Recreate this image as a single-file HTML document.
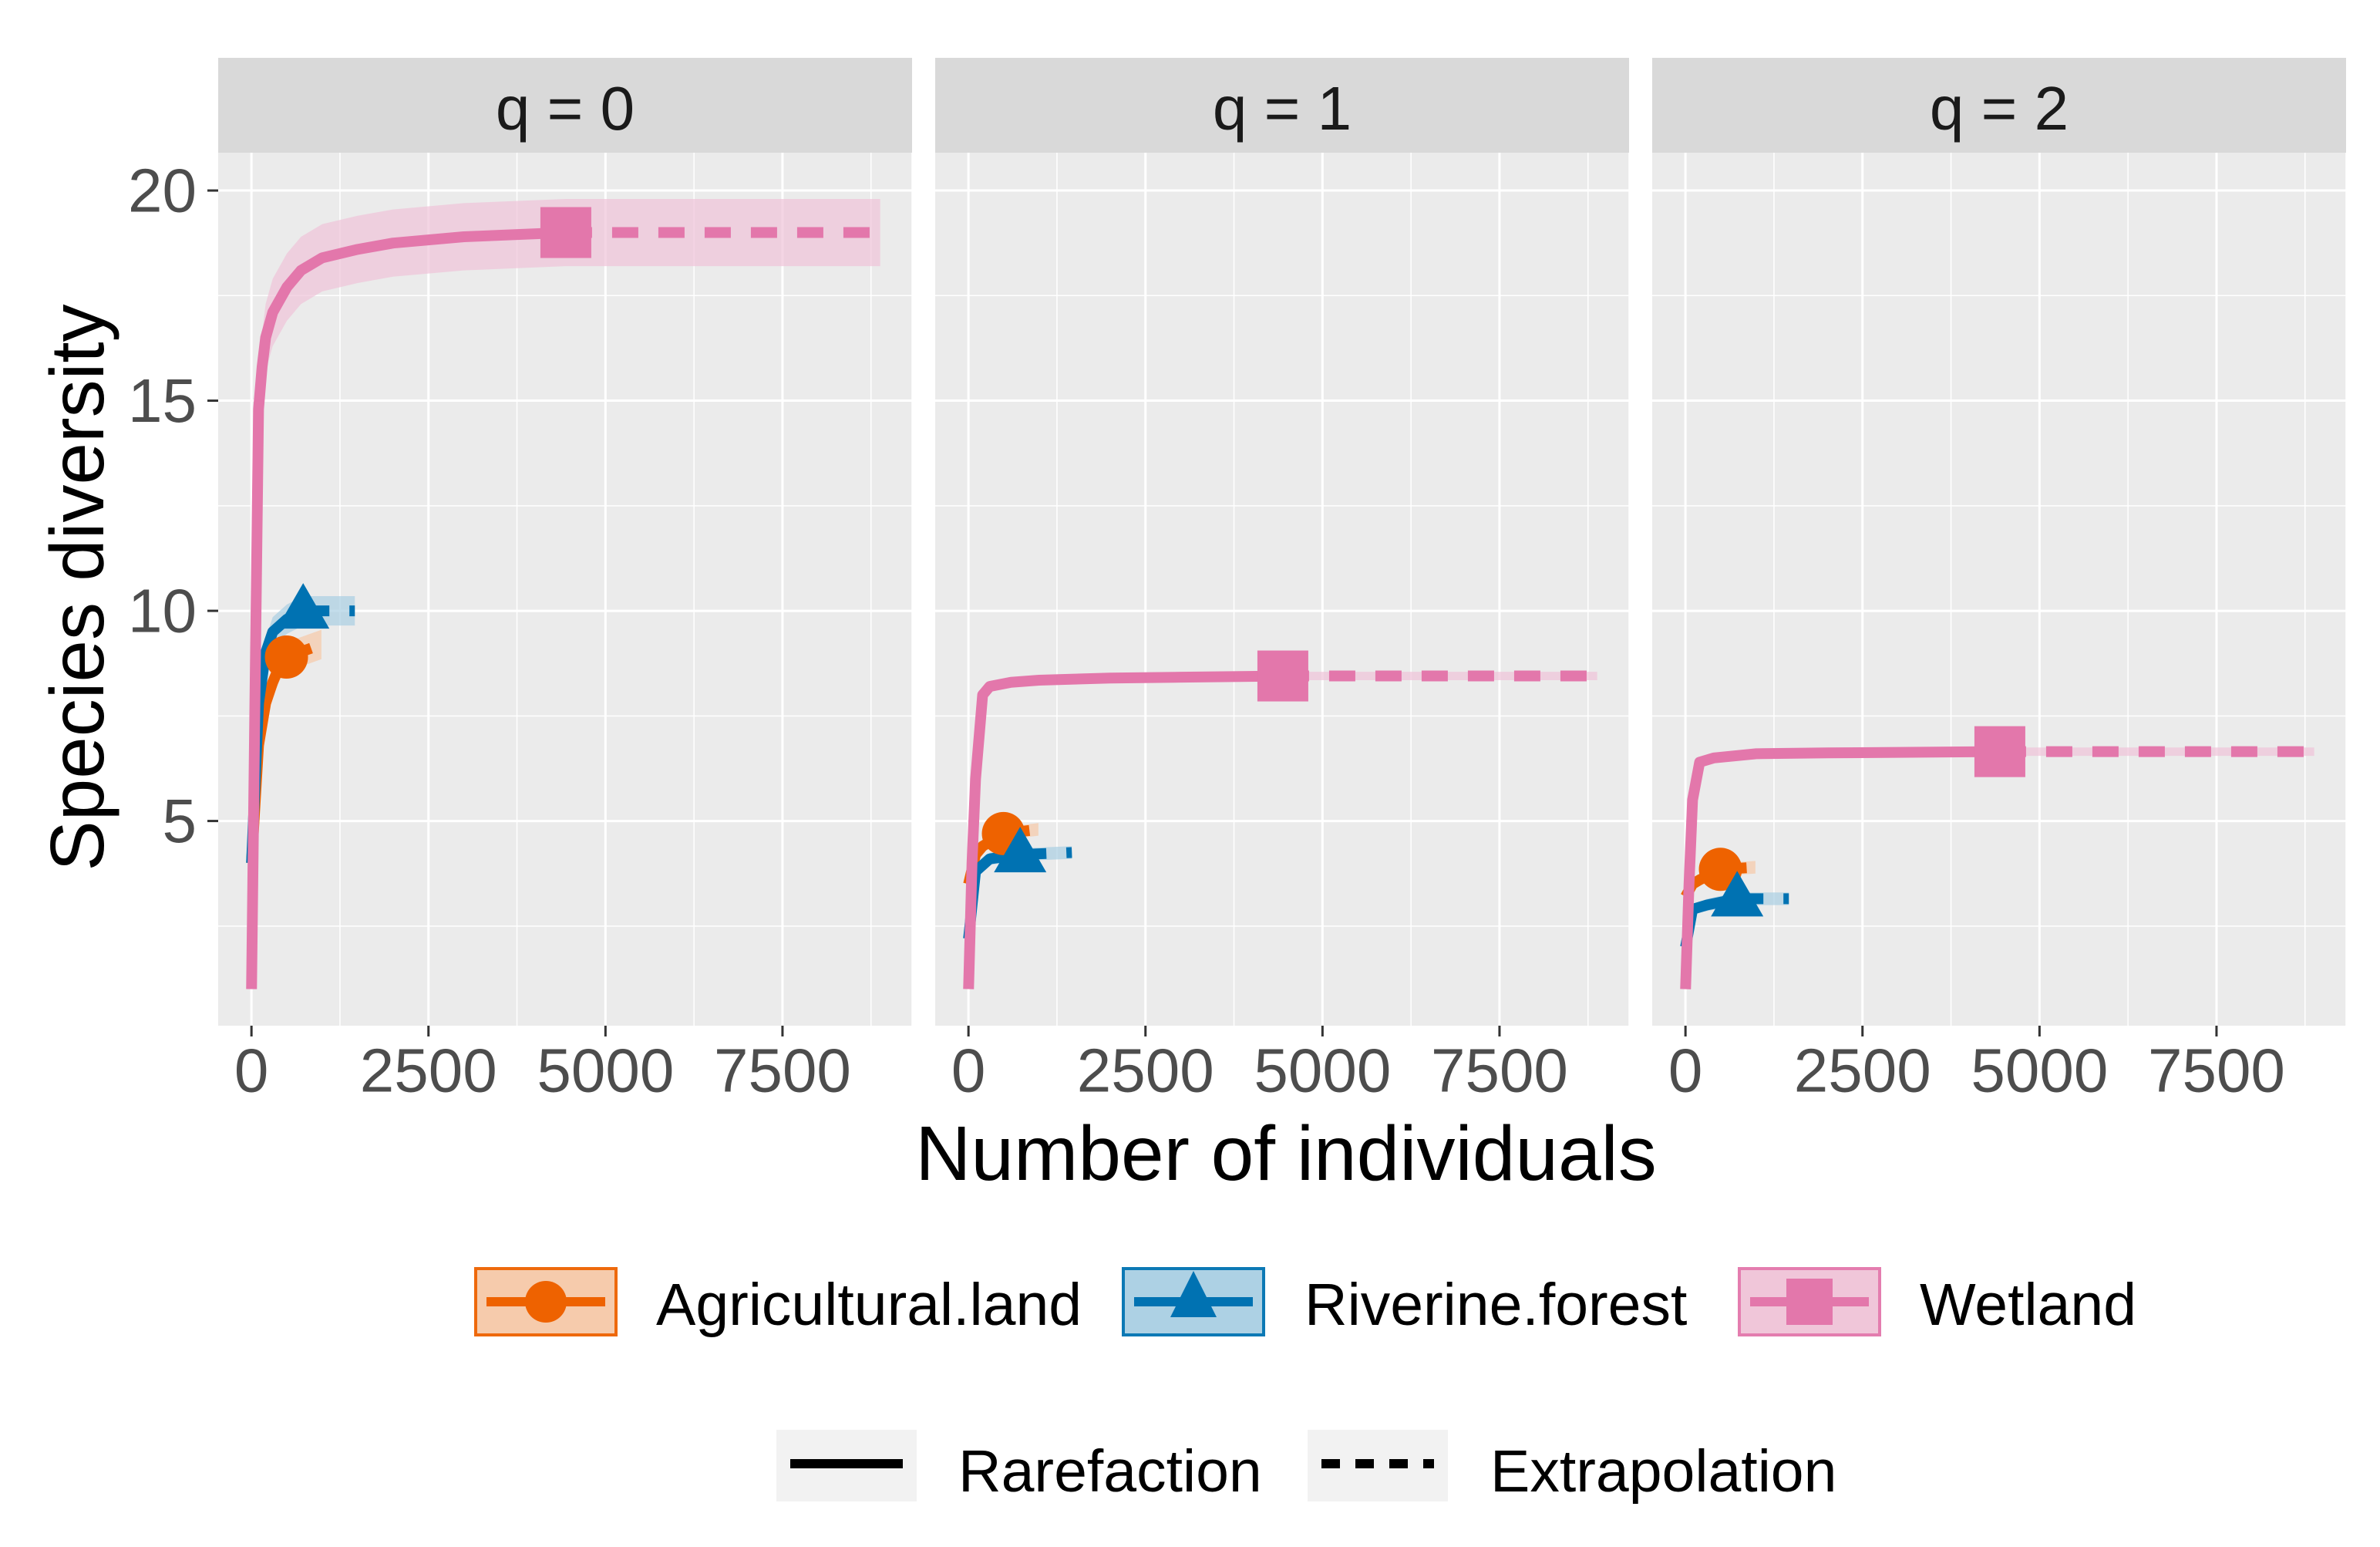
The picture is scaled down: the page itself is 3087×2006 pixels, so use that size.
<!DOCTYPE html>
<html><head><meta charset="utf-8"><style>
html,body{margin:0;padding:0;background:#fff;}
svg text{font-family:"Liberation Sans",Arial,sans-serif;}
</style></head><body>
<svg id="chart" width="3087" height="2001" viewBox="0 0 3087 2001" xmlns="http://www.w3.org/2000/svg">
<g id="panels"></g>
<text x="100" y="762" transform="rotate(-90 100 762)" text-anchor="middle" dominant-baseline="central" font-size="98" fill="#000">Species diversity</text>
<text x="1668" y="1496" text-anchor="middle" dominant-baseline="central" font-size="100" fill="#000">Number of individuals</text>
<g id="legend"></g>
</svg>
<script>
const panelNames = ["q = 0", "q = 1", "q = 2"];
const xTicks = [0, 2500, 5000, 7500];
const yTicks = [5, 10, 15, 20];
const seriesNames = ["Agricultural.land", "Riverine.forest", "Wetland"];
const seriesColors = ["#ee6200", "#0072b2", "#e377ab"];
const bandColors = ["#f6c9a8", "#a9cfe3", "#f0c3d8"];
// rarefaction x / y per panel per series
const rareX = [
  [[1,100,200,300,400,494],[1,100,200,300,500,730],[1,50,100,150,200,300,500,700,1000,1500,2000,3000,4440]],
  [[1,100,200,494],[1,100,300,730],[1,50,100,200,300,600,1000,2000,3000,4440]],
  [[1,100,200,494],[1,100,300,730],[1,50,100,200,400,1000,2000,4440]]
];
const rareY = [
  [[4,6.8,7.8,8.3,8.7,8.9],[4,7.8,9.0,9.5,9.8,10.0],[1,8,14.8,15.8,16.5,17.1,17.7,18.1,18.4,18.6,18.75,18.9,19.0]],
  [[3.5,4.2,4.4,4.7],[2.2,3.8,4.1,4.2],[1,4,6,8.0,8.2,8.3,8.35,8.4,8.42,8.45]],
  [[3.2,3.5,3.6,3.85],[2.0,2.9,3.0,3.15],[1,3.5,5.5,6.4,6.5,6.6,6.62,6.65]]
];
const bandHalf = [
  [0.35,0.35,0.8],
  [0.15,0.15,0.1],
  [0.15,0.15,0.1]
];
const extX = [
  [[494,988],[730,1460],[4440,6000,8880]],
  [[494,988],[730,1460],[4440,8880]],
  [[494,988],[730,1460],[4440,8880]]
];
const extY = [
  [[8.9,9.2],[10.0,10.0],[19.0,19.0,19.0]],
  [[4.7,4.8],[4.2,4.25],[8.45,8.45]],
  [[3.85,3.9],[3.15,3.15],[6.65,6.65]]
];
const sampleN = [494, 730, 4440];

const NS = "http://www.w3.org/2000/svg";
function mk(tag, attrs, parent){const e=document.createElementNS(NS,tag);for(const k in attrs)e.setAttribute(k,attrs[k]);if(parent)parent.appendChild(e);return e;}
const panelLeft=[283,1213,2143], panelW=900, plotTop=198, plotBot=1330, stripTop=75;
const xMin=-470, xMax=9330, yMin=0.13, yMax=20.9;
function sx(p,v){return panelLeft[p]+(v-xMin)/(xMax-xMin)*panelW;}
function sy(v){return plotBot-(v-yMin)/(yMax-yMin)*(plotBot-plotTop);}
const G=document.getElementById("panels");
for(let p=0;p<3;p++){
  const g=mk("g",{},G);
  
  
  const strip=mk("rect",{x:panelLeft[p],y:stripTop,width:panelW,height:plotTop-stripTop,fill:"#d9d9d9"},g);
  
  
  const st=mk("text",{x:panelLeft[p]+panelW/2,y:(stripTop+plotTop)/2+4,"text-anchor":"middle","dominant-baseline":"central","font-size":"80",fill:"#1a1a1a"},g);
  st.textContent=panelNames[p];
  
  
  const bg=mk("rect",{x:panelLeft[p],y:plotTop,width:panelW,height:plotBot-plotTop,fill:"#ebebeb"},g);
  
  
  for(let i=0;i<xTicks.length;i++){
    const mn=xTicks[i]+1250;
    mk("line",{x1:sx(p,mn),x2:sx(p,mn),y1:plotTop,y2:plotBot,stroke:"#fff","stroke-width":1.5},g);
    mk("line",{x1:sx(p,xTicks[i]),x2:sx(p,xTicks[i]),y1:plotTop,y2:plotBot,stroke:"#fff","stroke-width":3},g);
    mk("line",{x1:sx(p,xTicks[i]),x2:sx(p,xTicks[i]),y1:plotBot,y2:plotBot+14,stroke:"#333","stroke-width":3},g);
    const t=mk("text",{x:sx(p,xTicks[i]),y:1388,"text-anchor":"middle","dominant-baseline":"central","font-size":"80",fill:"#4d4d4d"},g);
    t.textContent=String(xTicks[i]);
    
    
  }
  for(let i=0;i<yTicks.length;i++){
    const mn=yTicks[i]-2.5;
    mk("line",{x1:panelLeft[p],x2:panelLeft[p]+panelW,y1:sy(mn),y2:sy(mn),stroke:"#fff","stroke-width":1.5},g);
    mk("line",{x1:panelLeft[p],x2:panelLeft[p]+panelW,y1:sy(yTicks[i]),y2:sy(yTicks[i]),stroke:"#fff","stroke-width":3},g);
    if(p===0){
      mk("line",{x1:269,x2:283,y1:sy(yTicks[i]),y2:sy(yTicks[i]),stroke:"#333","stroke-width":3},g);
      const t=mk("text",{x:255,y:sy(yTicks[i]),"text-anchor":"end","dominant-baseline":"central","font-size":"80",fill:"#4d4d4d"},g);
      t.textContent=String(yTicks[i]);
      
      
    }
  }
  mk("line",{x1:panelLeft[p]+panelW,x2:panelLeft[p]+panelW,y1:plotTop,y2:plotBot,stroke:"#fff","stroke-width":1.5},g);
  for(let s=0;s<3;s++){
    const xs=rareX[p][s].concat(extX[p][s].slice(1)), ys=rareY[p][s].concat(extY[p][s].slice(1));
    const h=bandHalf[p][s];
    let up=xs.map((x,i)=>sx(p,x)+","+sy(Math.min(ys[i]+h*Math.min(1,i/3+0.3),yMax))).join(" ");
    let lo=xs.map((x,i)=>sx(p,x)+","+sy(ys[i]-h*Math.min(1,i/3+0.3))).reverse().join(" ");
    const band=mk("polygon",{points:up+" "+lo,fill:bandColors[s],opacity:0.7},g);
    
    
  }
  for(let s=0;s<3;s++){
    const r=mk("polyline",{points:rareX[p][s].map((x,i)=>sx(p,x)+","+sy(rareY[p][s][i])).join(" "),fill:"none",stroke:seriesColors[s],"stroke-width":14,"stroke-linejoin":"round"},g);
    
    
    const e=mk("polyline",{points:extX[p][s].map((x,i)=>sx(p,x)+","+sy(extY[p][s][i])).join(" "),fill:"none",stroke:seriesColors[s],"stroke-width":14,"stroke-dasharray":"34 26"},g);
    
    
  }
  for(let s=0;s<3;s++){
    const cx=sx(p,sampleN[s]), cy=sy(rareY[p][s][rareY[p][s].length-1]);
    let m;
    if(s===0) m=mk("circle",{cx:cx,cy:cy,r:28,fill:seriesColors[s]},g);
    else if(s===1) m=mk("polygon",{points:`${cx},${cy-36} ${cx-34},${cy+23} ${cx+34},${cy+23}`,fill:seriesColors[s]},g);
    else m=mk("rect",{x:cx-33,y:cy-33,width:66,height:66,fill:seriesColors[s]},g);
    
    
  }
}
const L=document.getElementById("legend");
const keyX=[617,1457,2256], textX=[851,1692,2490];
for(let s=0;s<3;s++){
  const g=mk("g",{},L);
  
  
  mk("rect",{x:keyX[s],y:1645,width:182,height:86,fill:bandColors[s],stroke:seriesColors[s],"stroke-width":4,opacity:0.95},g);
  mk("line",{x1:keyX[s]+14,x2:keyX[s]+168,y1:1688,y2:1688,stroke:seriesColors[s],"stroke-width":12},g);
  const cx=keyX[s]+91,cy=1688;
  if(s===0) mk("circle",{cx:cx,cy:cy,r:27,fill:seriesColors[s]},g);
  else if(s===1) mk("polygon",{points:`${cx},${cy-40} ${cx-30},${cy+20} ${cx+30},${cy+20}`,fill:seriesColors[s]},g);
  else mk("rect",{x:cx-30,y:cy-30,width:60,height:60,fill:seriesColors[s]},g);
  const t=mk("text",{x:textX[s],y:1692,"dominant-baseline":"central","font-size":"77",fill:"#000"},g);
  t.textContent=seriesNames[s];
}
const ltNames=["Rarefaction","Extrapolation"], ltKeyX=[1007,1696], ltTextX=[1243,1933], ltDash=["none","24 20"];
for(let i=0;i<2;i++){
  const g=mk("g",{},L);
  
  
  mk("rect",{x:ltKeyX[i],y:1854,width:182,height:93,fill:"#f2f2f2"},g);
  mk("line",{x1:ltKeyX[i]+18,x2:ltKeyX[i]+164,y1:1898,y2:1898,stroke:"#000","stroke-width":12,"stroke-dasharray":ltDash[i]},g);
  const t=mk("text",{x:ltTextX[i],y:1908,"dominant-baseline":"central","font-size":"77",fill:"#000"},g);
  t.textContent=ltNames[i];
}
</script>
</body></html>
